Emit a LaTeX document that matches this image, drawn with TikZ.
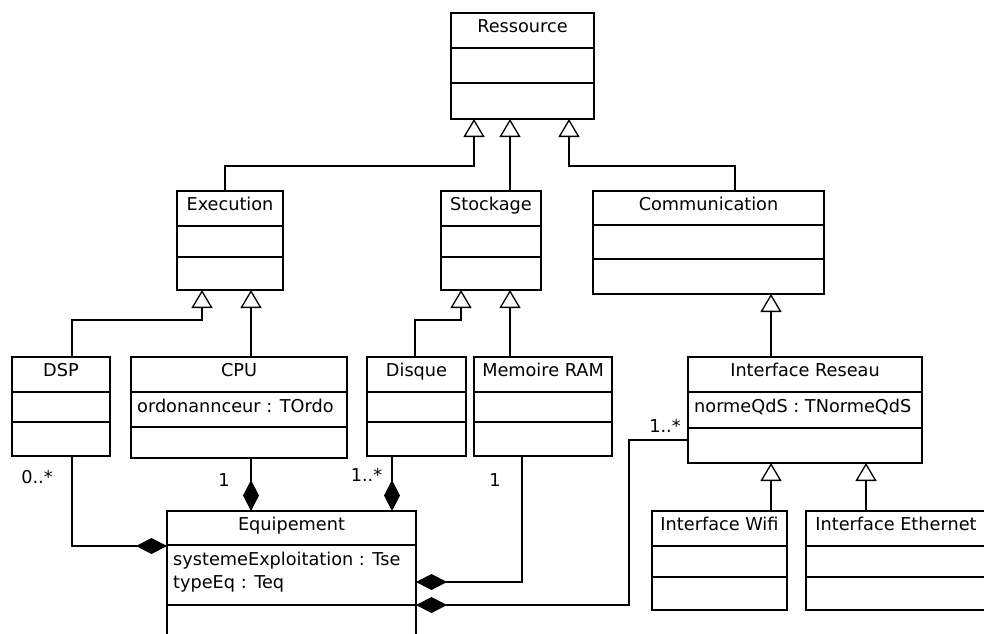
\documentclass[tikz,border=0pt]{standalone}
\usepackage{fontspec}
\setmainfont{DejaVu Sans}
\usetikzlibrary{arrows.meta}

\tikzset{
  box/.style={draw, line width=1.3pt, inner sep=0pt, outer sep=0pt, anchor=north west},
  divider/.style={line width=2.7pt},
  link/.style={line width=1.3pt},
  gen/.style={link, -{Triangle[open, length=18pt, width=21pt]}},
  comp/.style={link, -{Diamond[length=31pt, width=16pt]}},
  txt/.style={inner sep=0pt, font=\fontsize{17.7}{21}\selectfont},
  title/.style={txt, anchor=base},
  attr/.style={txt, anchor=base west},
  mult/.style={txt, anchor=base},
}

% #1 name, #2 left, #3 top, #4 right, #5 bottom,
% #6 first divider, #7 second divider, #8 class name, #9 first attribute
\newcommand\umlclass[9]{%
  \node[box, minimum width={#4-#2}, minimum height={#5-#3}] (#1) at (#2,#3) {};
  \draw[divider] (#2,#6) -- (#4,#6);
  \draw[divider] (#2,#7) -- (#4,#7);
  \node[title] (#1-name) at ({(#2+#4)/2},{#3+19}) {#8};
  \node[attr] (#1-attr) at ({#2+6},{#6+20}) {#9};
}

\begin{document}
\begin{tikzpicture}[x=1pt, y=-1pt]
\useasboundingbox (0,0) rectangle (984,633);
\clip (0,0) rectangle (984,633);

% classes
\umlclass{ressource}{451}{13}{594}{119}{48}{83}{Ressource}{}
\umlclass{exec}{177}{191}{283}{290}{226}{257}{Execution}{}
\umlclass{stock}{441}{191}{541}{290}{226}{257}{Stockage}{}
\umlclass{comm}{593}{191}{824}{294}{225}{259}{Communication}{}
\umlclass{dsp}{12}{357}{110}{456}{392}{422}{DSP}{}
\umlclass{cpu}{131}{357}{347}{458}{392}{427}{CPU}{ordonannceur : TOrdo}
\umlclass{disque}{367}{357}{466}{456}{392}{422}{Disque}{}
\umlclass{ram}{474}{357}{612}{456}{392}{422}{Memoire RAM}{}
\umlclass{ir}{688}{357}{922}{463}{392}{428}{Interface Reseau}{normeQdS : TNormeQdS}
\umlclass{wifi}{652}{511}{787}{610}{546}{577}{Interface Wifi}{}
\umlclass{eth}{806}{511}{986}{610}{546}{577}{Interface Ethernet}{}
\umlclass{equip}{167}{511}{416}{660}{545}{605}{Equipement}{systemeExploitation : Tse}
\node[attr] (equip-attr2) at (173,588) {typeEq : Teq};

% generalizations
\draw[gen] ([xshift=-5]exec.north) -- ++(0,-25) -| ([xshift=-48.5]ressource.south);
\draw[gen] ([xshift=19]stock.north) -- ([xshift=-12.5]ressource.south);
\draw[gen] ([xshift=26.5]comm.north) -- ++(0,-25) -| ([xshift=46.5]ressource.south);
\draw[gen] ([xshift=11]dsp.north) -- ++(0,-37) -| ([xshift=-28]exec.south);
\draw[gen] ([xshift=12]cpu.north) -- ([xshift=21]exec.south);
\draw[gen] ([xshift=-1.5]disque.north) -- ++(0,-37) -| ([xshift=-30]stock.south);
\draw[gen] ([xshift=-33]ram.north) -- ([xshift=19]stock.south);
\draw[gen] ([xshift=-34]ir.north) -- ([xshift=62.5]comm.south);
\draw[gen] ([xshift=51.5]wifi.north) -- ([xshift=-34]ir.south);
\draw[gen] ([xshift=-30]eth.north) -- ([xshift=61]ir.south);

% compositions
\draw[comp] ([xshift=12]cpu.south) -- ([xshift=-40.5]equip.north);
\draw[comp] ([xshift=-24.5]disque.south) -- ([xshift=100.5]equip.north);
\draw[comp] ([xshift=11]dsp.south) |- ([yshift=-35]equip.north west);
\draw[comp] ([xshift=-21]ram.south) |- ([yshift=-71]equip.north east);
\draw[comp] ([yshift=-83]ir.north west) -- ++(-59,0) |- ([yshift=-94]equip.north east);

% multiplicities
\node[mult] (m-dsp) at (37,483) {0..*};
\node[mult] (m-cpu) at (224,486) {1};
\node[mult] (m-disque) at (366.5,481) {1..*};
\node[mult] (m-ram) at (495,486) {1};
\node[mult] (m-ir) at (665,432) {1..*};
\end{tikzpicture}
\end{document}
